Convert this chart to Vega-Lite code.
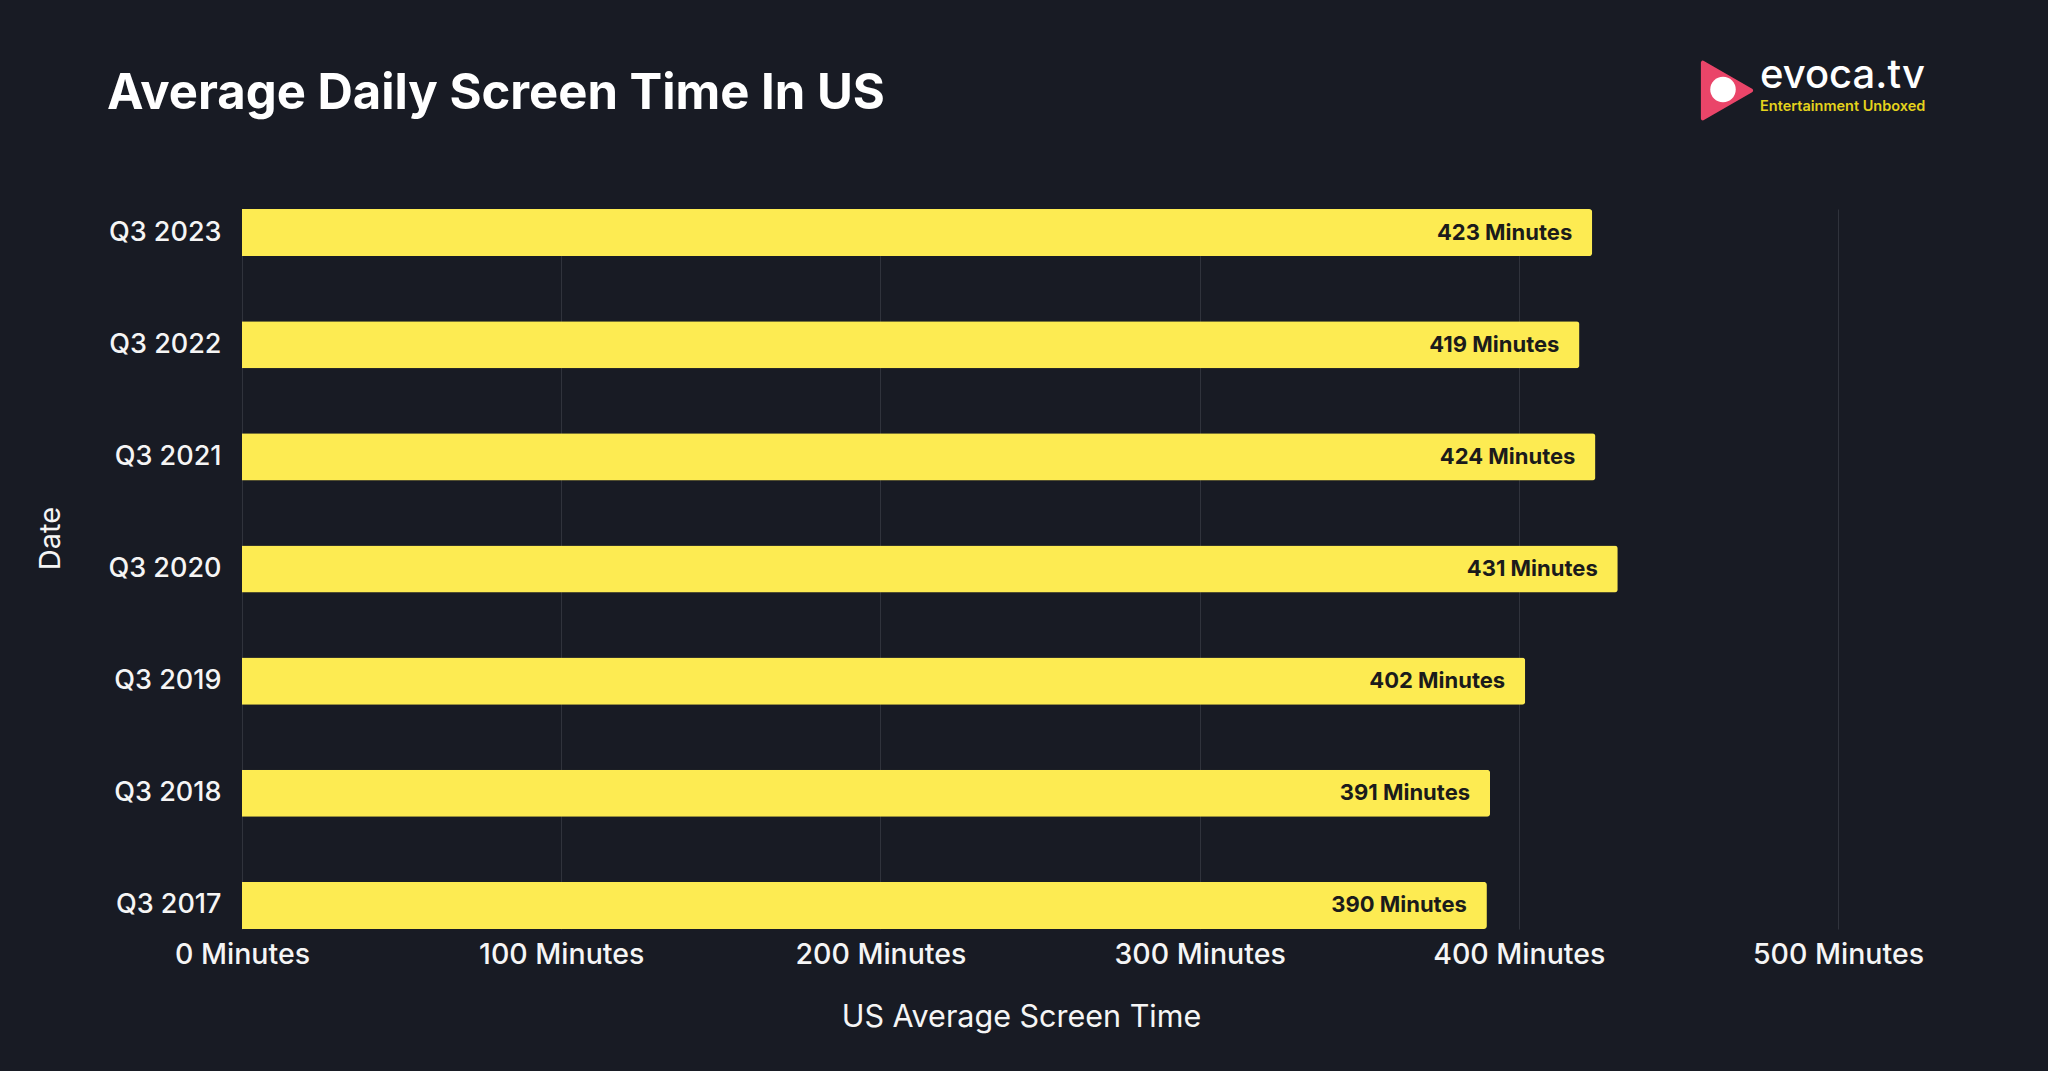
{
  "$schema": "https://vega.github.io/schema/vega-lite/v6.json",
  "autosize": "none",
  "width": 1596,
  "height": 720,
  "padding": {"left": 242, "top": 209, "right": 210, "bottom": 142},
  "background": "#181b24",
  "config": {
    "view": {"stroke": null},
    "font": "Inter",
    "title": {"font": "Inter", "fontSize": 49, "fontWeight": 700, "color": "#ffffff", "anchor": "start", "frame": "group", "baseline": "alphabetic", "offset": 0, "dy": 67, "dx": -135}
  },
  "title": "Average Daily Screen Time In US",
  "datasets": {
    "screen": [
      {"date": "Q3 2023", "minutes": 423, "label": "423 Minutes"},
      {"date": "Q3 2022", "minutes": 419, "label": "419 Minutes"},
      {"date": "Q3 2021", "minutes": 424, "label": "424 Minutes"},
      {"date": "Q3 2020", "minutes": 431, "label": "431 Minutes"},
      {"date": "Q3 2019", "minutes": 402, "label": "402 Minutes"},
      {"date": "Q3 2018", "minutes": 391, "label": "391 Minutes"},
      {"date": "Q3 2017", "minutes": 390, "label": "390 Minutes"}
    ],
    "brand": [
      {"name": "evoca.tv", "tagline": "Entertainment Unboxed"}
    ]
  },
  "layer": [
    {
      "data": {"name": "screen"},
      "mark": {"type": "bar", "color": "#fdeb52", "cornerRadiusEnd": 3},
      "encoding": {
        "y": {
          "field": "date", "type": "nominal",
          "sort": ["Q3 2023", "Q3 2022", "Q3 2021", "Q3 2020", "Q3 2019", "Q3 2018", "Q3 2017"],
          "scale": {"paddingInner": 0.58, "paddingOuter": 0},
          "axis": {
            "title": "Date", "domain": false, "ticks": false, "grid": false,
            "labelFont": "Inter", "labelFontSize": 27, "labelFontWeight": 500, "labelColor": "#f5f5f5", "labelPadding": 21,
            "titleFont": "Inter", "titleFontSize": 29, "titleFontWeight": 400, "titleColor": "#f5f5f5",
            "titleAngle": -90, "titleAlign": "center", "titleBaseline": "middle", "titleX": -192, "titleY": 329
          }
        },
        "x": {
          "field": "minutes", "type": "quantitative",
          "scale": {"domain": [0, 500], "nice": false},
          "axis": {
            "title": "US Average Screen Time", "values": [0, 100, 200, 300, 400, 500],
            "labelExpr": "datum.value + ' Minutes'",
            "domain": false, "ticks": false, "grid": true, "gridColor": "#30333c", "gridWidth": 1,
            "labelFont": "Inter", "labelFontSize": 28.5, "labelFontWeight": 500, "labelColor": "#f5f5f5", "labelPadding": 11,
            "labelFlush": false,
            "titleFont": "Inter", "titleFontSize": 30.5, "titleFontWeight": 400, "titleColor": "#f5f5f5",
            "titleAlign": "center", "titleBaseline": "middle", "titleX": 779, "titleY": 88
          }
        }
      }
    },
    {
      "data": {"name": "screen"},
      "mark": {"type": "text", "align": "right", "baseline": "middle", "dx": -20, "font": "Inter", "fontSize": 22, "fontWeight": 700, "color": "#1b1b1b"},
      "encoding": {
        "y": {"field": "date", "type": "nominal", "sort": ["Q3 2023", "Q3 2022", "Q3 2021", "Q3 2020", "Q3 2019", "Q3 2018", "Q3 2017"]},
        "x": {"field": "minutes", "type": "quantitative"},
        "text": {"field": "label", "type": "nominal"}
      }
    },
    {
      "data": {"name": "brand"},
      "mark": {"type": "point", "shape": "triangle-right", "filled": true, "size": 3100, "color": "#ea4569", "opacity": 1, "xOffset": -111, "yOffset": -142, "strokeJoin": "round", "stroke": "#ea4569", "strokeWidth": 4},
      "encoding": {
        "x": {"datum": 500, "type": "quantitative"},
        "y": {"datum": "Q3 2023", "type": "nominal"}
      }
    },
    {
      "data": {"name": "brand"},
      "mark": {"type": "point", "shape": "circle", "filled": true, "size": 650, "color": "#ffffff", "opacity": 1, "xOffset": -115, "yOffset": -143},
      "encoding": {
        "x": {"datum": 500, "type": "quantitative"},
        "y": {"datum": "Q3 2023", "type": "nominal"}
      }
    },
    {
      "data": {"name": "brand"},
      "mark": {"type": "text", "align": "left", "baseline": "alphabetic", "dx": -78, "dy": -145, "font": "Inter", "fontSize": 40, "fontWeight": 500, "color": "#ffffff"},
      "encoding": {
        "x": {"datum": 500, "type": "quantitative"},
        "y": {"datum": "Q3 2023", "type": "nominal"},
        "text": {"field": "name"}
      }
    },
    {
      "data": {"name": "brand"},
      "mark": {"type": "text", "align": "left", "baseline": "alphabetic", "dx": -78, "dy": -122, "font": "Inter", "fontSize": 14.5, "fontWeight": 600, "color": "#e5d31c"},
      "encoding": {
        "x": {"datum": 500, "type": "quantitative"},
        "y": {"datum": "Q3 2023", "type": "nominal"},
        "text": {"field": "tagline"}
      }
    }
  ]
}
